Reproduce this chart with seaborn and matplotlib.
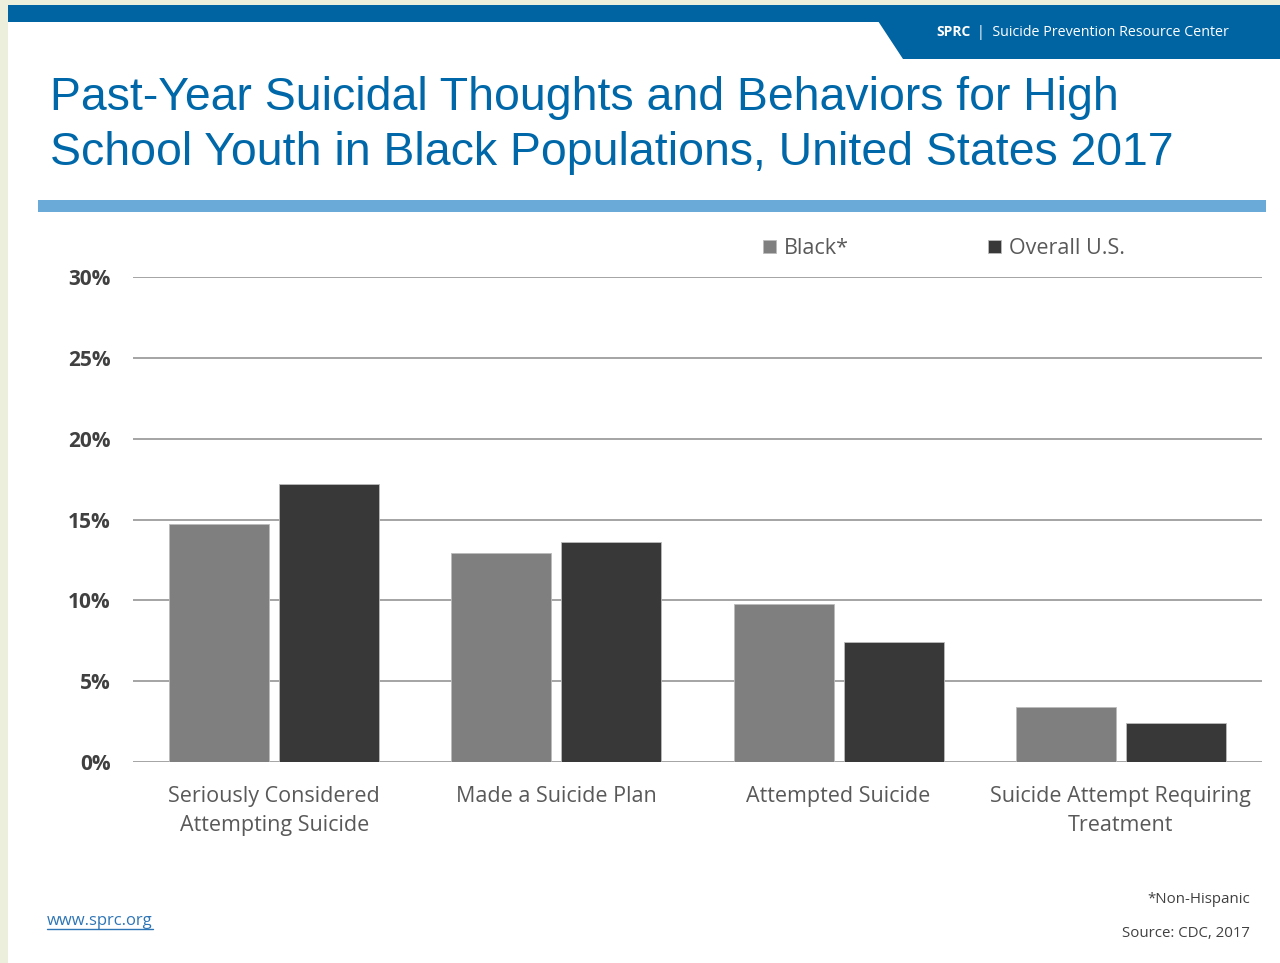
import matplotlib
matplotlib.use("Agg")
import matplotlib.pyplot as plt
from matplotlib.patches import Rectangle, Polygon
import seaborn as sns
import pandas as pd

categories = ["Seriously Considered\nAttempting Suicide", "Made a Suicide Plan",
              "Attempted Suicide", "Suicide Attempt Requiring\nTreatment"]
black_values = [14.7, 12.9, 9.8, 3.4]
overall_values = [17.2, 13.6, 7.4, 2.4]
series_names = ["Black*", "Overall U.S."]
yticks = [0, 5, 10, 15, 20, 25, 30]
ytick_labels = ["0%", "5%", "10%", "15%", "20%", "25%", "30%"]

df = pd.DataFrame({
    "category": categories * 2,
    "value": black_values + overall_values,
    "series": [series_names[0]] * 4 + [series_names[1]] * 4,
})

sns.set_theme(style="white")
plt.rcParams["font.family"] = ["Open Sans", "DejaVu Sans"]

W, H = 1280, 963
fig = plt.figure(figsize=(12.8, 9.63), dpi=100)

def fx(x):
    return x / W

def fy(y):
    return 1 - y / H

# background decorations
fig.patches.append(Rectangle((0, 0), fx(8), 1, transform=fig.transFigure,
                             facecolor="#ECEFDC", edgecolor="none", zorder=0))
fig.patches.append(Rectangle((0, fy(5)), 1, fy(0) - fy(5), transform=fig.transFigure,
                             facecolor="#ECEFDC", edgecolor="none", zorder=0))
blue = "#0063A2"
fig.patches.append(Rectangle((fx(8), fy(22)), 1 - fx(8), fy(5) - fy(22), transform=fig.transFigure,
                             facecolor=blue, edgecolor="none", zorder=1))
fig.patches.append(Polygon([(fx(878), fy(21)), (1, fy(21)), (1, fy(59)), (fx(903), fy(59))],
                           closed=True, transform=fig.transFigure,
                           facecolor=blue, edgecolor="none", zorder=1))
fig.text(fx(936), fy(32), "SPRC", color="white", fontsize=10, fontweight="bold",
         va="center", ha="left", family=["Open Sans", "DejaVu Sans"])
fig.text(fx(977), fy(32), "|  Suicide Prevention Resource Center", color="white",
         fontsize=10.3, va="center", ha="left", family=["Open Sans", "DejaVu Sans"])

# title
fig.text(fx(50), fy(98), "Past-Year Suicidal Thoughts and Behaviors for High",
         color="#0068A8", fontsize=33.4, va="center", ha="left",
         family=["Liberation Sans", "DejaVu Sans"])
fig.text(fx(50), fy(153), "School Youth in Black Populations, United States 2017",
         color="#0068A8", fontsize=33.4, va="center", ha="left",
         family=["Liberation Sans", "DejaVu Sans"])
fig.patches.append(Rectangle((fx(38), fy(212)), fx(1266) - fx(38), fy(200) - fy(212),
                             transform=fig.transFigure, facecolor="#6AAAD9",
                             edgecolor="none", zorder=1))

# axes
ax = fig.add_axes([fx(133), fy(762), fx(1262) - fx(133), fy(277) - fy(762)])
sns.barplot(data=df, x="category", y="value", hue="series",
            palette=["#7F7F7F", "#383838"], width=0.78, gap=0.09,
            saturation=1, ax=ax, legend=True, errorbar=None)
ax.set_ylim(0, 30)
ax.set_xlim(-0.5, 3.5)
ax.set_yticks(yticks)
ax.set_yticklabels(ytick_labels, fontsize=15, fontweight="bold", color="#404040")
ax.tick_params(axis="y", length=0, pad=16)
ax.tick_params(axis="x", length=0, pad=17)
for lbl in ax.get_xticklabels():
    lbl.set_fontsize(15.5)
    lbl.set_color("#595959")
    lbl.set_linespacing(1.5)
ax.set_xlabel("")
ax.set_ylabel("")
for s in ax.spines.values():
    s.set_visible(False)
ax.yaxis.grid(True, color="#8C8C8C", linewidth=1.1)
ax.set_axisbelow(True)
for p in ax.patches:
    p.set_edgecolor("#BBBBBB")
    p.set_linewidth(0.6)

leg = ax.legend(loc="lower left", bbox_to_anchor=(fx(763), fy(259)),
                bbox_transform=fig.transFigure, ncol=2, frameon=False,
                handlelength=0.6, handleheight=0.6, handletextpad=0.35,
                columnspacing=6.5, fontsize=15.5, borderaxespad=0, borderpad=0)
for t in leg.get_texts():
    t.set_color("#595959")

# footer
fig.text(fx(47), fy(921), "www.sprc.org", color="#2E75B6", fontsize=12,
         va="center", ha="left", family=["Open Sans", "DejaVu Sans"])
fig.lines.append(plt.Line2D([fx(47), fx(153)], [fy(929), fy(929)], color="#2E75B6",
                            linewidth=1, transform=fig.transFigure))
fig.text(fx(1250), fy(899), "*Non-Hispanic", color="#404040", fontsize=10.8,
         va="center", ha="right")
fig.text(fx(1250), fy(933), "Source: CDC, 2017", color="#404040", fontsize=10.8,
         va="center", ha="right")

fig.savefig("out.png", dpi=100, facecolor="white")
